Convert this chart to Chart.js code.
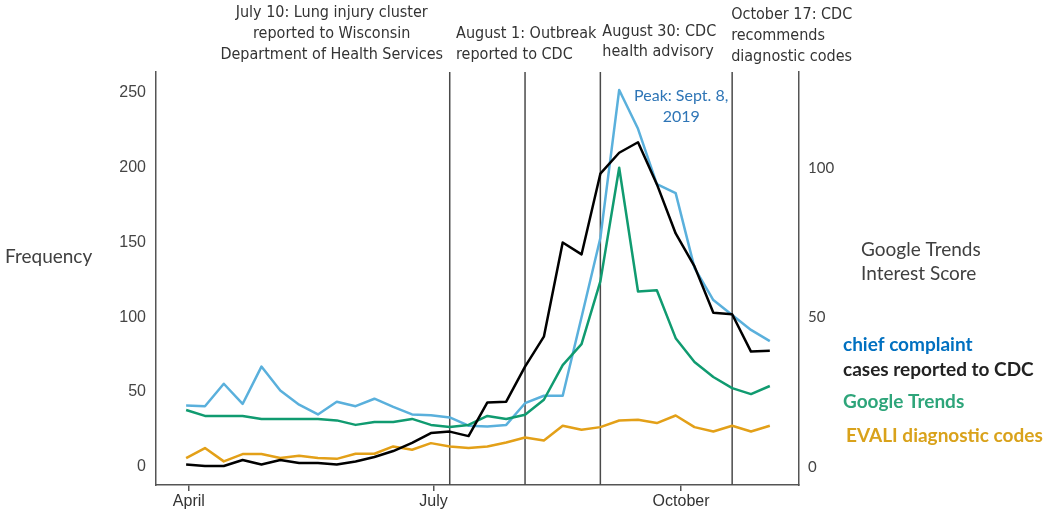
<!DOCTYPE html>
<html>
<head>
<meta charset="utf-8">
<script src="https://cdn.jsdelivr.net/npm/chart.js@4"></script>
<style>
  html, body { margin: 0; padding: 0; background: #fff; }
  #wrap { width: 1050px; height: 515px; position: relative; }
</style>
</head>
<body>
<div id="wrap"><canvas id="evaliChart"></canvas></div>
<script>
// Weekly series, week 0 = week of March 31, 2019
const weeks = Array.from({ length: 32 }, (_, i) => i);
const chiefComplaint = [41, 40.5, 55.5, 42, 67, 51, 41.5, 35, 43.5, 40.5, 45.5, 40, 35, 34.5, 33, 27.5,
    27, 28, 42.5, 47.5, 47.5, 100, 153, 252, 226, 189, 183, 133, 111.5, 101.5, 91.5, 84];
const cdcCases = [1.5, 0.5, 0.5, 4.5, 1.5, 4.5, 2.5, 2.5, 1.5, 3.5, 6.5, 10.5, 16, 22.5, 23.5, 20.5,
    43, 43.5, 67, 87, 150, 142, 196, 210, 217, 189, 156, 134, 103, 102, 77, 77.5];
const googleTrends = [19, 17, 17, 17, 16, 16, 16, 16, 15.5, 14, 15, 15, 16, 14, 13.3, 14,
    17, 16, 17.4, 22.4, 34, 41, 62, 100, 58.6, 59, 43, 35, 30, 26.3, 24.3, 27];
const evaliCodes = [5.8, 12.5, 3.6, 8.5, 8.5, 5.8, 7.3, 5.8, 5.3, 8.7, 8.7, 13.6, 11.4, 15.8, 13.6, 12.5,
    13.6, 16.2, 19.6, 17.6, 27.4, 24.7, 26.5, 30.9, 31.4, 29.2, 34.3, 26.5, 23.6, 27.4, 23.6, 27.4];

const firstWeek = '2019-03-31';
const tickLabels = ['April', 'July', 'October'];
const tickDates = ['2019-04-01', '2019-07-01', '2019-10-01'];
const leftTicks = [0, 50, 100, 150, 200, 250];
const rightTicks = [0, 50, 100];

// Events (week index where the line is drawn) and their labels
const eventWeeks = [14, 18, 22, 29];
const eventLabels = [
    ['July 10: Lung injury cluster', 'reported to Wisconsin', 'Department of Health Services'],
    ['August 1: Outbreak', 'reported to CDC'],
    ['August 30: CDC', 'health advisory'],
    ['October 17: CDC', 'recommends', 'diagnostic codes']
];
const peakWeek = 23;

const seriesNames = ['chief complaint', 'cases reported to CDC', 'Google Trends', 'EVALI diagnostic codes'];

// position of a date in weeks
function weekOf(fecha) {
    return (new Date(fecha) - new Date(firstWeek)) / (7 * 86400000);
}
const tickWeeks = tickDates.map(weekOf);

const pts = (serie) => serie.map((v, i) => ({ x: weeks[i], y: v }));

const condensed = "'Liberation Sans Narrow', 'DejaVu Sans Condensed', sans-serif";

const anotaciones = {
    id: 'anotaciones',
    beforeDatasetsDraw(chart) {
        const { ctx, chartArea, scales: { x } } = chart;
        ctx.save();
        ctx.strokeStyle = '#4a4a4a';
        ctx.lineWidth = 1.5;
        eventWeeks.forEach(w => {
            const px = x.getPixelForValue(w);
            ctx.beginPath();
            ctx.moveTo(px, chartArea.top);
            ctx.lineTo(px, chartArea.bottom);
            ctx.stroke();
        });
        ctx.restore();
    },
    afterDraw(chart) {
        const { ctx, scales: { x } } = chart;
        ctx.save();
        ctx.textBaseline = 'middle';

        // event labels on top
        ctx.fillStyle = '#333';
        ctx.font = '16px ' + condensed;
        const p0 = x.getPixelForValue(eventWeeks[0]);
        ctx.textAlign = 'center';
        eventLabels[0].forEach((t, k) => ctx.fillText(t, p0 - 118, 13 + k * 21));
        ctx.textAlign = 'left';
        eventLabels[1].forEach((t, k) => ctx.fillText(t, x.getPixelForValue(eventWeeks[1]) - 69, 34 + k * 21));
        eventLabels[2].forEach((t, k) => ctx.fillText(t, x.getPixelForValue(eventWeeks[2]) + 2, 32 + k * 20));
        eventLabels[3].forEach((t, k) => ctx.fillText(t, x.getPixelForValue(eventWeeks[3]) - 1, 15 + k * 21));

        // peak label
        ctx.fillStyle = '#2e75b6';
        ctx.font = '16px Lato, sans-serif';
        ctx.textAlign = 'center';
        const pk = x.getPixelForValue(peakWeek) + 62;
        ctx.fillText('Peak: Sept. 8,', pk, 96);
        ctx.fillText('2019', pk, 117);

        // axis titles
        ctx.fillStyle = '#404040';
        ctx.font = '19px Lato, sans-serif';
        ctx.textAlign = 'left';
        ctx.fillText('Frequency', 5, 257);
        ctx.fillText('Google Trends', 861, 250);
        ctx.fillText('Interest Score', 861, 274);

        // legend
        const colores = ['#0070c0', '#222222', '#2ea57a', '#d9a21b'];
        const ys = [345, 370, 402, 436];
        ctx.font = 'bold 19px Lato, sans-serif';
        seriesNames.forEach((n, k) => {
            ctx.fillStyle = colores[k];
            ctx.fillText(n, k === 3 ? 846 : 843, ys[k]);
        });
        ctx.restore();
    }
};

new Chart(document.getElementById('evaliChart'), {
    type: 'line',
    data: {
        datasets: [
            { label: seriesNames[0], data: pts(chiefComplaint), borderColor: '#5ab0dc', yAxisID: 'y', order: 3 },
            { label: seriesNames[1], data: pts(cdcCases), borderColor: '#000000', yAxisID: 'y', order: 0 },
            { label: seriesNames[2], data: pts(googleTrends), borderColor: '#109b70', yAxisID: 'y2', order: 2 },
            { label: seriesNames[3], data: pts(evaliCodes), borderColor: '#e3a018', yAxisID: 'y', order: 1 }
        ]
    },
    options: {
        responsive: true,
        maintainAspectRatio: false,
        animation: false,
        layout: { padding: { top: 72, left: 0, right: 0, bottom: 0 } },
        elements: {
            line: { borderWidth: 2.5, tension: 0, borderJoinStyle: 'round' },
            point: { radius: 0 }
        },
        plugins: {
            legend: { display: false },
            tooltip: { enabled: false }
        },
        scales: {
            x: {
                type: 'linear',
                min: -1.6,
                max: 32.55,
                afterBuildTicks: (s) => { s.ticks = tickWeeks.map(v => ({ value: v })); },
                afterFit: (s) => { s.height = 30; },
                border: { display: true, color: '#555', width: 1.5 },
                grid: { display: true, drawOnChartArea: false, drawTicks: true, tickLength: 6, color: '#555', lineWidth: 1.5 },
                ticks: {
                    callback: (v, i) => tickLabels[i],
                    color: '#333',
                    padding: 1,
                    maxRotation: 0,
                    font: { family: "'Liberation Sans', Arial, sans-serif", size: 16 }
                }
            },
            y: {
                position: 'left',
                min: -12.2,
                max: 264,
                afterBuildTicks: (s) => { s.ticks = leftTicks.map(v => ({ value: v })); },
                afterFit: (s) => { s.width = 156; },
                border: { display: true, color: '#555', width: 1.5 },
                grid: { display: false, drawTicks: false },
                ticks: {
                    color: '#444',
                    padding: 10,
                    font: { family: "'Liberation Sans', Arial, sans-serif", size: 16 }
                }
            },
            y2: {
                position: 'right',
                min: -6.1,
                max: 132,
                afterBuildTicks: (s) => { s.ticks = rightTicks.map(v => ({ value: v })); },
                afterFit: (s) => { s.width = 251; },
                border: { display: true, color: '#555', width: 1.5 },
                grid: { display: false, drawTicks: false },
                ticks: {
                    color: '#444',
                    padding: 9,
                    font: { family: "Lato, sans-serif", size: 15 }
                }
            }
        }
    },
    plugins: [anotaciones]
});
</script>
</body>
</html>
